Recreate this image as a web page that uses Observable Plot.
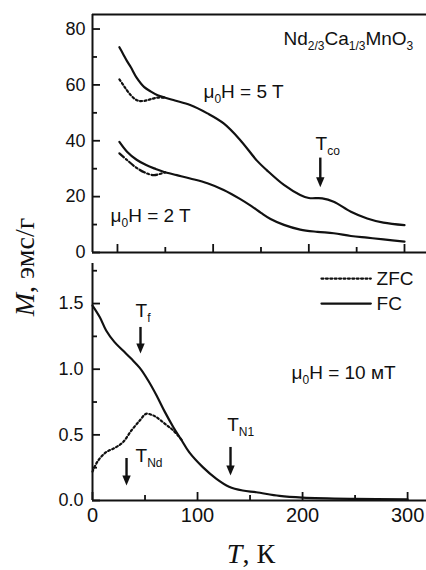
<!DOCTYPE html>
<html><head><meta charset="utf-8">
<script src="https://cdn.jsdelivr.net/npm/d3@7"></script>
<script src="https://cdn.jsdelivr.net/npm/@observablehq/plot@0.6"></script>
<style>
html,body{margin:0;padding:0;background:#fff;}
#chart{position:relative;width:426px;height:570px;overflow:hidden;background:#fff;font-family:"Liberation Sans",Arial,sans-serif;}
#chart svg{position:absolute;left:0;}
.ylab{position:absolute;left:25px;top:267px;transform:translate(-50%,-50%) rotate(-90deg);font-family:"Liberation Serif","DejaVu Serif",serif;font-size:28px;white-space:nowrap;line-height:1;color:#111;}
.xlab{position:absolute;left:251px;top:540px;transform:translateX(-50%);font-family:"Liberation Serif","DejaVu Serif",serif;font-size:28px;white-space:nowrap;line-height:1;color:#111;}
</style></head><body><div id="chart"></div>
<script>
// ---------- data (T in K, M in emu/g) ----------
const fc5T_T  = [2,6,10,14,20,28,35,42,50,60,76,94,111,128,146,156,174,191,200,214,226,244,261,278,300];
const fc5T_M  = [73.5,71,68.5,66.3,62.6,59.2,57.6,56.3,55.4,54.4,52.8,49.8,46.2,40.4,32.8,29.5,24.2,20.6,19.5,19.4,18.2,14.6,12.2,10.7,9.8];
const zfc5T_T = [2,6,10,14,18,22,28,34,41,50];
const zfc5T_M = [62,60,58,56.3,55,54.3,54.3,54.8,55.4,55.4];
const fc2T_T  = [2,10,20,30,40,48,62,76,94,111,128,140,150,160,174,191,209,226,244,261,278,300];
const fc2T_M  = [39.6,36.1,33.2,31.3,29.9,28.9,27.7,26.5,24.8,22.4,19.2,16.6,14.2,12,9.9,8.2,7.4,6.9,5.9,5.3,4.7,3.9];
const zfc2T_T = [2,10,20,30,38,44,50];
const zfc2T_M = [35.5,33.1,30.3,28.4,27.7,28.1,28.7];
const fc10_T  = [0,7,13,21,29,37,45,53,61,69,77,85,92,105,118,130,143,156,178,200,250,300];
const fc10_M  = [1.485,1.396,1.295,1.206,1.142,1.079,1.01,0.914,0.80,0.673,0.558,0.457,0.368,0.254,0.165,0.105,0.076,0.063,0.035,0.022,0.012,0.008];
const zfc10_T = [0,5,13,21,29,37,45,51,57,61,69,77,85];
const zfc10_M = [0.22,0.3,0.368,0.4,0.444,0.533,0.609,0.66,0.65,0.634,0.584,0.533,0.46];

// tick values
const xMajor = [0,100,200,300], xMinor = [50,150,250];
const topYMajor = [0,20,40,60,80], topYMinor = [10,30,50,70];
const botYMajor = [0,0.5,1.0,1.5], botYMinor = [0.25,0.75,1.25,1.75];

// annotation texts
const topLabels = [
  {T: 173.5, M: 74.3, label: "Nd_{2/3}Ca_{1/3}MnO_{3}"},
  {T: 89.9,  M: 55.3, label: "μ_{0}H = 5 T"},
  {T: -7.3,  M: 10.9, label: "μ_{0}H = 2 T"},
  {T: 207,   M: 36.7, label: "T_{co}"}
];
const topArrows = [{T: 212, from: 33.8, to: 23.4}];
const botLabels = [
  {T: 189.5, M: 0.929, label: "μ_{0}H = 10 мТ"},
  {T: 41,    M: 1.394, label: "T_{f}"},
  {T: 41,    M: 0.297, label: "T_{Nd}"},
  {T: 128.3, M: 0.533, label: "T_{N1}"}
];
const botArrows = [
  {T: 45.7,  from: 1.318, to: 1.12},
  {T: 32.4,  from: 0.32,  to: 0.114},
  {T: 131.4, from: 0.404, to: 0.19}
];
const legendItems = [
  {name: "ZFC", M: 1.69, dash: "2,2.4"},
  {name: "FC",  M: 1.50, dash: null}
];
const legendT = [218, 265], legendTextT = 270.5;

// ---------- helpers ----------
const zip = (T, M) => T.map((t, i) => ({T: t, M: M[i]}));
const INK = "#111";
const TOPX = [-26.1, 323], TOPY = [0, 85.2];
const BOTX = [0, 318], BOTY = [0, 1.805];
const W = 426, ML = 92;
const PW = W - ML;

const headSymbol = {draw(ctx) { ctx.moveTo(-4.2, -10); ctx.lineTo(4.2, -10); ctx.lineTo(0, 0); ctx.closePath(); }};

function yTicks(vals, len, plotW) {
  return Plot.tickY(vals, {y: d => d, insetRight: plotW - len, stroke: INK, strokeWidth: 1.8});
}
function xTicks(vals, len, plotH) {
  return Plot.tickX(vals, {x: d => d, insetTop: plotH - len, stroke: INK, strokeWidth: 1.8});
}
function arrows(data) {
  return [
    Plot.ruleX(data, {x: "T", y1: "from", y2: "to", insetBottom: 6, stroke: INK, strokeWidth: 2.4}),
    Plot.dot(data, {x: "T", y: "to", symbol: headSymbol, fill: INK, stroke: "none"})
  ];
}
function labels(data) {
  return Plot.text(data, {x: "T", y: "M", text: "label", textAnchor: "start", lineAnchor: "bottom",
    fontSize: 19, fill: INK, fontFamily: "Liberation Sans, Arial, sans-serif"});
}

// ---------- top panel ----------
const topH = 258, topMT = 14, topMB = 6;
const topPlot = Plot.plot({
  width: W, height: topH, marginLeft: ML, marginRight: 0, marginTop: topMT, marginBottom: topMB,
  style: {fontFamily: "Liberation Sans, Arial, sans-serif", fontSize: "18px", color: INK, background: "transparent", overflow: "visible"},
  x: {domain: TOPX, axis: null},
  y: {domain: TOPY},
  marks: [
    Plot.ruleY([TOPY[0], TOPY[1]], {stroke: INK, strokeWidth: 2}),
    Plot.ruleX([TOPX[0]], {stroke: INK, strokeWidth: 2}),
    yTicks(topYMajor, 8, PW), yTicks(topYMinor, 5, PW),
    xTicks(xMajor, 8, topH - topMT - topMB), xTicks(xMinor, 5, topH - topMT - topMB),
    Plot.axisY(topYMajor, {tickSize: 0, tickPadding: 7, label: null, fontSize: 18}),
    Plot.line(zip(fc5T_T, fc5T_M), {x: "T", y: "M", curve: "catmull-rom", stroke: INK, strokeWidth: 2.2}),
    Plot.line(zip(zfc5T_T, zfc5T_M), {x: "T", y: "M", curve: "catmull-rom", stroke: INK, strokeWidth: 2.2, strokeDasharray: "2,2.4"}),
    Plot.line(zip(fc2T_T, fc2T_M), {x: "T", y: "M", curve: "catmull-rom", stroke: INK, strokeWidth: 2.2}),
    Plot.line(zip(zfc2T_T, zfc2T_M), {x: "T", y: "M", curve: "catmull-rom", stroke: INK, strokeWidth: 2.2, strokeDasharray: "6,2.5,2,2.5"}),
    labels(topLabels),
    ...arrows(topArrows)
  ]
});

// ---------- bottom panel ----------
const botTop = 257, botH = 313, botMT = 6, botMB = 70;
const botPlot = Plot.plot({
  width: W, height: botH, marginLeft: ML, marginRight: 0, marginTop: botMT, marginBottom: botMB,
  style: {fontFamily: "Liberation Sans, Arial, sans-serif", fontSize: "18px", color: INK, background: "transparent", overflow: "visible"},
  x: {domain: BOTX},
  y: {domain: BOTY},
  marks: [
    Plot.ruleY([0], {stroke: INK, strokeWidth: 2}),
    Plot.ruleX([BOTX[0]], {stroke: INK, strokeWidth: 2}),
    yTicks(botYMajor, 8, PW), yTicks(botYMinor, 5, PW),
    xTicks(xMajor, 8, botH - botMT - botMB), xTicks(xMinor, 5, botH - botMT - botMB),
    Plot.axisY(botYMajor, {tickSize: 0, tickPadding: 9, label: null, tickFormat: d3.format(".1f"), fontSize: 18}),
    Plot.axisX(xMajor, {tickSize: 0, tickPadding: 7, label: null, fontSize: 20}),
    Plot.line(zip(fc10_T, fc10_M), {x: "T", y: "M", curve: "catmull-rom", stroke: INK, strokeWidth: 2.2}),
    Plot.line(zip(zfc10_T, zfc10_M), {x: "T", y: "M", curve: "catmull-rom", stroke: INK, strokeWidth: 2.2, strokeDasharray: "2,2.4"}),
    // legend
    ...legendItems.map(d => Plot.line(legendT.map(t => ({T: t, M: d.M})), {x: "T", y: "M", stroke: INK, strokeWidth: 2.2, strokeDasharray: d.dash})),
    Plot.text(legendItems, {x: () => legendTextT, y: "M", text: "name", textAnchor: "start", fontSize: 19, fill: INK}),
    labels(botLabels),
    ...arrows(botArrows)
  ]
});

const chart = document.getElementById("chart");
topPlot.style.top = "0px";
botPlot.style.top = botTop + "px";
chart.appendChild(topPlot);
chart.appendChild(botPlot);

// rich text: _{...} -> subscript
function richify(svg) {
  d3.select(svg).selectAll("text").each(function() {
    const s = this.textContent;
    if (!s.includes("_{")) return;
    const parts = s.split(/(_\{[^}]*\})/).filter(p => p !== "");
    while (this.firstChild) this.removeChild(this.firstChild);
    let down = false;
    for (const p of parts) {
      const ts = document.createElementNS("http://www.w3.org/2000/svg", "tspan");
      if (p.startsWith("_{")) {
        ts.textContent = p.slice(2, -1);
        ts.setAttribute("font-size", "12px");
        ts.setAttribute("dy", down ? "0" : "5");
        down = true;
      } else {
        ts.textContent = p;
        if (down) { ts.setAttribute("dy", "-5"); down = false; }
      }
      this.appendChild(ts);
    }
  });
}
richify(topPlot);
richify(botPlot);

const yl = document.createElement("div");
yl.className = "ylab";
yl.innerHTML = "<i>M</i>, эмс/г";
chart.appendChild(yl);
const xl = document.createElement("div");
xl.className = "xlab";
xl.innerHTML = "<i>T</i>, К";
chart.appendChild(xl);
</script>
</body></html>
